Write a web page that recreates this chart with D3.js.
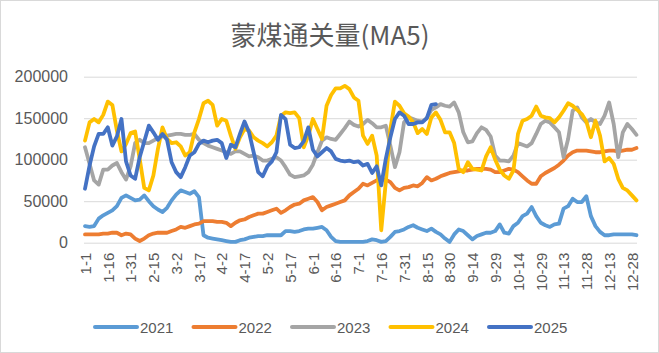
<!DOCTYPE html>
<html>
<head>
<meta charset="utf-8">
<script src="https://cdn.jsdelivr.net/npm/d3@7"></script>
<style>
  html, body { margin: 0; padding: 0; background: #fff; }
  svg { display: block; }
</style>
</head>
<body>
<div id="chart"></div>
<script>
const title = "蒙煤通关量(MA5)";
const STEP = 3;          // days between samples
const DAYS = 365;        // category count on the x axis
const tickDays = [0,15,30,45,60,75,90,105,120,135,150,165,180,195,210,225,240,255,270,285,300,315,330,345,360];
const tickLabels = ["1-1","1-16","1-31","2-15","3-2","3-17","4-2","4-17","5-2","5-17","6-1","6-16","7-1","7-16","7-31","8-15","8-30","9-14","9-29","10-14","10-29","11-13","11-28","12-13","12-28"];
const yTicks = [0, 50000, 100000, 150000, 200000];

const seriesNames = ["2021","2022","2023","2024","2025"];
const seriesColors = ["#5B9BD5","#ED7D31","#A5A5A5","#FFC000","#4472C4"];

const s2021 = [20000,19000,20000,29000,33000,36000,39000,44000,54000,57000,
 54000,51000,52000,57000,50000,44000,40000,37000,42000,51000,
 58000,63000,61000,59000,62000,55000,9000,6000,5000,4000,
 3000,2000,1000,1000,3000,4000,6000,7000,8000,8000,
 9000,9000,9000,9000,14000,14000,13000,14000,16000,17000,
 17000,18000,19000,15000,7000,2000,1000,1000,1000,1000,
 1000,1000,2000,4000,3000,1000,2000,7000,13000,14000,
 16000,19000,21000,18000,16000,14000,17000,13000,10000,5000,
 1000,10000,16000,14000,9000,4000,8000,10000,12000,12000,
 14000,22000,12000,11000,20000,24000,32000,35000,43000,32000,
 24000,21000,19000,22000,23000,41000,44000,53000,49000,49000,
 56000,32000,20000,13000,9000,9000,10000,10000,10000,10000,
 10000,9000];

const s2022 = [10000,10000,10000,10000,11000,11000,12000,12000,9000,11000,
 10000,5000,2000,5000,9000,11000,12000,12000,12000,14000,
 16000,19000,18000,20000,22000,23000,26000,26000,26000,25000,
 25000,24000,20000,24000,27000,28000,31000,33000,35000,35000,
 37000,39000,41000,36000,39000,43000,46000,47000,51000,53000,
 55000,49000,39000,43000,45000,47000,49000,51000,57000,61000,
 65000,71000,69000,72000,75000,76000,76000,73000,66000,63000,
 66000,67000,69000,68000,72000,79000,75000,77000,80000,82000,
 84000,85000,86000,87000,87000,88000,89000,89000,89000,88000,
 85000,85000,87000,89000,88000,85000,80000,75000,71000,71000,
 80000,84000,87000,90000,94000,99000,105000,109000,111000,111000,
 111000,110000,109000,109000,110000,111000,111000,110000,111000,112000,
 112000,114000];

const s2023 = [115000,95000,75000,70000,88000,88000,93000,96000,85000,76000,
 92000,120000,124000,120000,120000,123000,126000,128000,129000,130000,
 131000,131000,130000,130000,131000,124000,120000,117000,115000,113000,
 111000,109000,107000,110000,110000,107000,104000,105000,103000,99000,
 99000,101000,103000,99000,91000,82000,79000,80000,81000,85000,
 94000,109000,123000,127000,125000,124000,131000,138000,146000,142000,
 140000,143000,148000,144000,139000,139000,141000,117000,91000,109000,
 145000,151000,149000,147000,146000,150000,160000,163000,167000,165000,
 164000,169000,157000,133000,121000,122000,132000,139000,136000,128000,
 105000,99000,99000,98000,105000,120000,118000,116000,120000,131000,
 143000,147000,145000,139000,133000,103000,125000,159000,163000,151000,
 145000,149000,145000,143000,153000,169000,143000,103000,133000,143000,
 137000,130000];

const s2024 = [123000,145000,149000,145000,154000,170000,166000,135000,110000,119000,
 132000,134000,101000,66000,63000,81000,113000,139000,125000,120000,
 121000,116000,105000,109000,133000,149000,168000,171000,166000,141000,
 149000,147000,129000,113000,127000,137000,135000,127000,123000,120000,
 116000,121000,129000,153000,157000,156000,157000,150000,115000,129000,
 149000,137000,125000,165000,178000,186000,186000,189000,185000,175000,
 171000,129000,119000,129000,105000,15000,73000,137000,170000,165000,
 156000,152000,145000,132000,137000,131000,151000,157000,148000,133000,
 133000,120000,89000,85000,97000,89000,88000,87000,104000,115000,
 100000,88000,81000,77000,87000,131000,147000,149000,153000,164000,
 153000,151000,150000,145000,151000,159000,168000,165000,160000,155000,
 146000,127000,147000,129000,98000,102000,95000,77000,66000,63000,
 57000,51000];

const s2025 = [65000,93000,116000,131000,131000,139000,117000,128000,149000,98000,
 81000,77000,103000,122000,141000,133000,124000,131000,124000,97000,
 85000,79000,91000,105000,109000,119000,123000,121000,123000,124000,
 120000,102000,118000,115000,131000,146000,133000,109000,85000,80000,
 92000,98000,109000,154000,149000,118000,114000,115000,122000,139000,
 112000,104000,109000,114000,110000,101000,99000,98000,99000,97000,
 98000,93000,95000,84000,92000,69000,101000,127000,149000,157000,
 153000,143000,143000,145000,145000,150000,166000,167000];

const allSeries = [s2021, s2022, s2023, s2024, s2025];

// ---- layout ----
const W = 659, H = 353;
const plot = { left: 84, right: 637, top: 76.7, bottom: 242.7 };

const svg = d3.select("#chart").append("svg")
  .attr("width", W).attr("height", H)
  .attr("font-family", "'Liberation Sans', Arial, sans-serif");

svg.append("rect").attr("x", 0.5).attr("y", 0.5).attr("width", W - 1).attr("height", H - 1)
  .attr("fill", "#fff").attr("stroke", "#D9D9D9");

const x = d3.scaleLinear().domain([0, DAYS - 1]).range([plot.left + 1, plot.right + 1]);
const y = d3.scaleLinear().domain([0, 200000]).range([plot.bottom, plot.top]);

// title
svg.append("text").attr("x", 330).attr("y", 33)
  .attr("text-anchor", "middle").attr("dominant-baseline", "central")
  .attr("font-family", "'Noto Sans CJK SC', sans-serif")
  .attr("font-size", 26).attr("fill", "#595959").text(title);

// gridlines + y axis labels
const yAxis = d3.axisLeft(y).tickValues(yTicks).tickSize(-(plot.right - plot.left)).tickPadding(16)
  .tickFormat(d3.format("d"));
const gy = svg.append("g").attr("transform", `translate(${plot.left},0)`).call(yAxis);
gy.select(".domain").remove();
gy.selectAll(".tick line").attr("stroke", "#D9D9D9").attr("stroke-width", 1);
gy.selectAll(".tick text").attr("fill", "#595959").attr("font-size", 16)
  .attr("font-family", "'Liberation Sans', Arial, sans-serif");

// x axis labels
const xAxis = d3.axisBottom(x).tickValues(tickDays).tickSize(0)
  .tickFormat((d, i) => tickLabels[i]);
const gx = svg.append("g").attr("transform", `translate(0,${plot.bottom})`).call(xAxis);
gx.select(".domain").remove();
gx.selectAll(".tick text")
  .attr("fill", "#595959").attr("font-size", 15)
  .attr("font-family", "'Liberation Sans', Arial, sans-serif")
  .attr("text-anchor", "end")
  .attr("transform", "translate(0,10) rotate(-90)")
  .attr("x", 0).attr("y", 0).attr("dy", "0.35em");

// lines
const line = d3.line()
  .x((d, i) => x(i * STEP))
  .y(d => y(d))
  .curve(d3.curveLinear);

allSeries.forEach((s, k) => {
  svg.append("path").datum(s)
    .attr("fill", "none")
    .attr("stroke", seriesColors[k])
    .attr("stroke-width", 3.8)
    .attr("stroke-linejoin", "round")
    .attr("stroke-linecap", "round")
    .attr("d", line);
});

// legend
const lg = svg.append("g").attr("transform", "translate(95,327)");
seriesNames.forEach((n, k) => {
  const g = lg.append("g").attr("transform", `translate(${k * 98.5},0)`);
  g.append("line").attr("x1", 0).attr("x2", 42).attr("y1", 0).attr("y2", 0)
    .attr("stroke", seriesColors[k]).attr("stroke-width", 4).attr("stroke-linecap", "round");
  g.append("text").attr("x", 45).attr("y", 0).attr("dominant-baseline", "central")
    .attr("font-size", 15).attr("fill", "#595959").text(n);
});
</script>
</body>
</html>
